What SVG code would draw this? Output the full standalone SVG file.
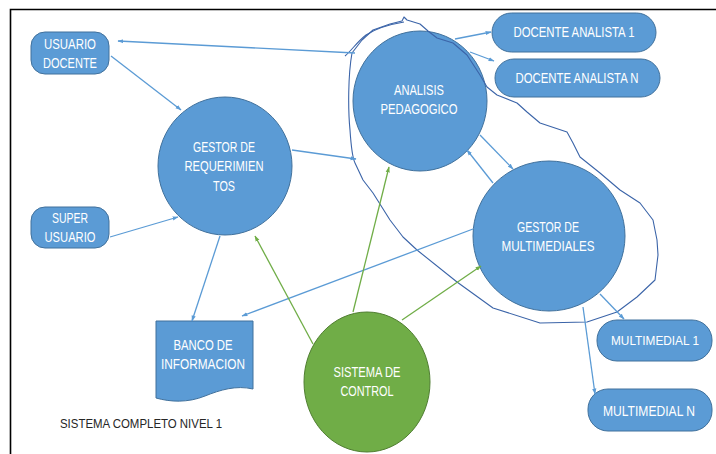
<svg xmlns="http://www.w3.org/2000/svg" width="716" height="454" viewBox="0 0 716 454">
<defs>
<style>
.b{fill:#5B9BD5;stroke:#41719C;stroke-width:1}
.g{fill:#70AD47;stroke:#507E32;stroke-width:1}
.t{font-family:"Liberation Sans",Arial,sans-serif;font-size:14.5px;fill:#FFFFFF;text-anchor:middle}
.cb{stroke:#5B9BD5;stroke-width:1.3;fill:none;marker-end:url(#ab)}
.cg{stroke:#70AD47;stroke-width:1.3;fill:none;marker-end:url(#ag)}
.ol{fill:none;stroke:#3B64A8;stroke-width:1.1;stroke-linejoin:round}
</style>
<marker id="ab" viewBox="0 0 10 10" refX="9" refY="5" markerWidth="6" markerHeight="6" markerUnits="userSpaceOnUse" orient="auto"><path d="M0,1.5 L10,5 L0,8.5 Z" fill="#5B9BD5"/></marker>
<marker id="ag" viewBox="0 0 10 10" refX="9" refY="5" markerWidth="6" markerHeight="6" markerUnits="userSpaceOnUse" orient="auto"><path d="M0,1.5 L10,5 L0,8.5 Z" fill="#70AD47"/></marker>
</defs>
<rect width="716" height="454" fill="#FFFFFF"/>
<path d="M10.5,454 V9.5 H716" fill="none" stroke="#000" stroke-width="1.6"/>

<g id="usuario-docente"><rect class="b" x="31" y="32" width="78" height="42" rx="14"/><text class="t" x="70" y="49" textLength="52" lengthAdjust="spacingAndGlyphs">USUARIO</text><text class="t" x="70" y="68" textLength="54" lengthAdjust="spacingAndGlyphs">DOCENTE</text></g>
<g id="super-usuario"><rect class="b" x="31" y="207" width="78" height="41" rx="14"/><text class="t" x="70" y="223" textLength="36" lengthAdjust="spacingAndGlyphs">SUPER</text><text class="t" x="70" y="242" textLength="51" lengthAdjust="spacingAndGlyphs">USUARIO</text></g>
<g id="gestor-requerimientos"><ellipse class="b" cx="225" cy="166" rx="67" ry="69"/><text class="t" x="224" y="152" textLength="62" lengthAdjust="spacingAndGlyphs">GESTOR DE</text><text class="t" x="224" y="171" textLength="79" lengthAdjust="spacingAndGlyphs">REQUERIMIEN</text><text class="t" x="224" y="191" textLength="22" lengthAdjust="spacingAndGlyphs">TOS</text></g>
<g id="analisis-pedagogico"><ellipse class="b" cx="420" cy="101" rx="67" ry="70"/><text class="t" x="419" y="95" textLength="50" lengthAdjust="spacingAndGlyphs">ANALISIS</text><text class="t" x="419" y="114" textLength="77" lengthAdjust="spacingAndGlyphs">PEDAGOGICO</text></g>
<g id="docente-analista-1"><rect class="b" x="492" y="13" width="164" height="39" rx="19.5"/><text class="t" x="574" y="37" textLength="121" lengthAdjust="spacingAndGlyphs">DOCENTE ANALISTA 1</text></g>
<g id="docente-analista-n"><rect class="b" x="495" y="59" width="165" height="38" rx="19"/><text class="t" x="577" y="83" textLength="123" lengthAdjust="spacingAndGlyphs">DOCENTE ANALISTA N</text></g>
<g id="gestor-multimediales"><ellipse class="b" cx="549" cy="236" rx="76" ry="75"/><text class="t" x="548" y="232" textLength="62" lengthAdjust="spacingAndGlyphs">GESTOR DE</text><text class="t" x="548" y="251" textLength="93" lengthAdjust="spacingAndGlyphs">MULTIMEDIALES</text></g>
<g id="multimedial-1"><rect class="b" x="597" y="320" width="115" height="41" rx="20"/><text class="t" x="655" y="345" font-size="13px" style="font-size:13px" textLength="88" lengthAdjust="spacingAndGlyphs">MULTIMEDIAL 1</text></g>
<g id="multimedial-n"><rect class="b" x="588" y="389" width="124" height="42" rx="20"/><text class="t" x="649" y="416" textLength="92" lengthAdjust="spacingAndGlyphs">MULTIMEDIAL N</text></g>
<g id="sistema-de-control"><ellipse class="g" cx="367" cy="382" rx="63" ry="70"/><text class="t" x="367" y="377" textLength="67" lengthAdjust="spacingAndGlyphs">SISTEMA DE</text><text class="t" x="367" y="396" textLength="53" lengthAdjust="spacingAndGlyphs">CONTROL</text></g>
<g id="banco-de-informacion"><path class="b" d="M156,321 H253 V389 C236,385 220,390 205,396 C188,403 170,402 156,398 Z"/><text class="t" x="203" y="350" textLength="59" lengthAdjust="spacingAndGlyphs">BANCO DE</text><text class="t" x="203" y="369" textLength="84" lengthAdjust="spacingAndGlyphs">INFORMACION</text></g>

<g id="outline"><path class="ol" d="M352,53 C348,75 348,110 350,130 C351,145 352,157 355,163 L363,180 L373,193 L390,220 L403,237 L417,250 L457,282 L493,308 L540,323 L587,322 L617,312 L637,297 L655,280 L658,255 L657,240 L653,220 L640,203 L620,190 L600,173 L580,157 L573,143 L567,132 L540,123 L527,112 L517,103 L497,95 L487,87 L480,75 L467,55 L453,43 L437,38 L428,31 L420,24 L407,20 L404,17 L402,21 L390,24 L373,30 L362,40 Z"/><path class="ol" d="M345,56 C352,50 357,42 366,35 C378,27 392,24 404,22"/></g>

<g id="connectors">
<path class="cb" d="M355,53 L118,41"/>
<path class="cb" d="M455,39 L491,32"/>
<path class="cb" d="M470,52 L494,61"/>
<path class="cb" d="M111,56 L181,110"/>
<path class="cb" d="M110,237 L178,217"/>
<path class="cb" d="M292,150 L356,159"/>
<path class="cb" d="M220,236 L192,321"/>
<path class="cb" d="M473,229 L242,316"/>
<path class="cb" d="M480,135 L513,169"/>
<path class="cb" d="M493,183 L467,150"/>
<path class="cb" d="M600,294 L624,319"/>
<path class="cb" d="M583,307 L595,394"/>
<path class="cg" d="M313,344 L255,236"/>
<path class="cg" d="M353,312 L389,167"/>
<path class="cg" d="M402,320 L481,266"/>
</g>
<text x="60" y="428" font-family="'Liberation Sans',Arial,sans-serif" font-size="13.5px" fill="#262626" textLength="162" lengthAdjust="spacingAndGlyphs">SISTEMA COMPLETO NIVEL 1</text>
</svg>
